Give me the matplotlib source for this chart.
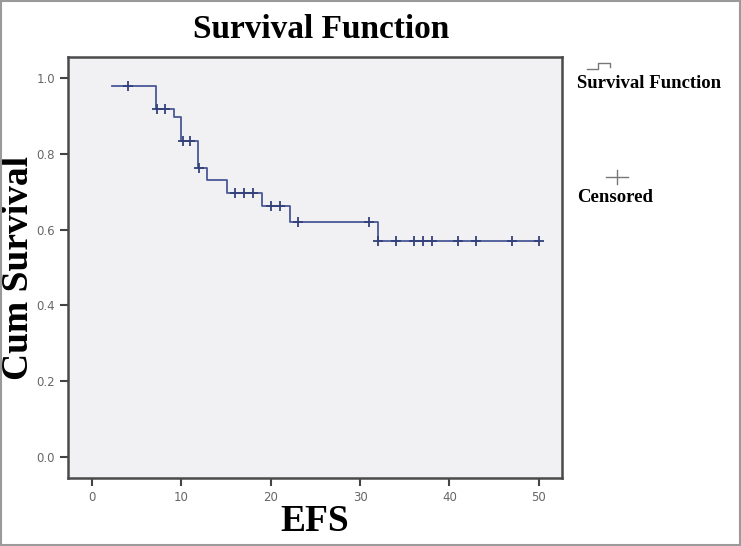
import numpy as np
import matplotlib
matplotlib.use("Agg")
import matplotlib.pyplot as plt
from matplotlib.lines import Line2D
from matplotlib.patches import Rectangle

# step function of the survival curve (time where each level starts, level)
step_times = [2.2, 7.1, 9.2, 10.0, 11.9, 12.9, 15.1, 19.0, 22.1, 31.95, 50.0]
surv = [0.979, 0.918, 0.897, 0.834, 0.762, 0.731, 0.697, 0.662, 0.620, 0.570, 0.570]
# censored observations
censor_times = [4, 7.3, 8.2, 10.2, 11, 12, 16, 17, 18, 20, 21, 23, 31,
                32, 34, 36, 37, 38, 41, 43, 47, 50]
xticks = [0, 10, 20, 30, 40, 50]
yticks = [0.0, 0.2, 0.4, 0.6, 0.8, 1.0]

line_col = "#4a5896"
serif = ["Liberation Serif", "DejaVu Serif"]

fig = plt.figure(figsize=(7.41, 5.46), dpi=100)
fig.patch.set_facecolor("white")
ax = fig.add_axes([68 / 741, 1 - 478 / 546, (562 - 68) / 741, (478 - 57) / 546])
ax.set_facecolor("#f1f1f3")

# survival curve
ax.step(step_times, surv, where="post", color=line_col, lw=1.3)
# censored marks sit on the curve
idx = np.searchsorted(step_times, censor_times, side="right") - 1
censor_vals = np.array(surv)[idx]
ax.plot(censor_times, censor_vals, ls="none", marker="+", ms=7, mew=1.3,
        color="#34407a")

ax.set_xlim(-2.7, 52.6)
ax.set_ylim(-0.055, 1.055)
ax.set_xticks(xticks)
ax.set_xticklabels([str(t) for t in xticks])
ax.set_yticks(yticks)
ax.set_yticklabels(["%.1f" % t for t in yticks])
ax.tick_params(direction="out", length=6, width=1.5, colors="#444444",
               labelsize=8.5, labelcolor="#666666")
for s in ax.spines.values():
    s.set_linewidth(1.8)
    s.set_color("#4a4a4a")

ax.set_xlabel("EFS", fontsize=27, fontweight="bold", family=serif, labelpad=0)
ax.set_ylabel("Cum Survival", fontsize=27, fontweight="bold", family=serif)
ax.yaxis.set_label_coords(-0.064, 0.5)
fig.text(321 / 741, 1 - 30 / 546, "Survival Function", fontsize=24,
         fontweight="bold", family=serif, ha="center", va="center")

# legend on the right
fig.add_artist(Line2D([587 / 741, 598 / 741, 598 / 741, 610 / 741, 610 / 741],
                      [1 - 69 / 546, 1 - 69 / 546, 1 - 63 / 546, 1 - 63 / 546, 1 - 67 / 546],
                      color="#777777", lw=1.0))
fig.text(577 / 741, 1 - 83 / 546, "Survival Function", fontsize=13.5,
         fontweight="bold", family=serif, va="center")
fig.add_artist(Line2D([606 / 741, 628 / 741], [1 - 177 / 546, 1 - 177 / 546],
                      color="#777777", lw=1.0))
fig.add_artist(Line2D([617 / 741, 617 / 741], [1 - 170 / 546, 1 - 184 / 546],
                      color="#777777", lw=1.0))
fig.text(577 / 741, 1 - 197 / 546, "Censored", fontsize=13.5,
         fontweight="bold", family=serif, va="center")

# outer frame
fig.add_artist(Rectangle((0.001, 0.001), 0.998, 0.997, transform=fig.transFigure,
                         fill=False, edgecolor="#9a9a9a", lw=1.5))

fig.savefig("out.png", dpi=100)
